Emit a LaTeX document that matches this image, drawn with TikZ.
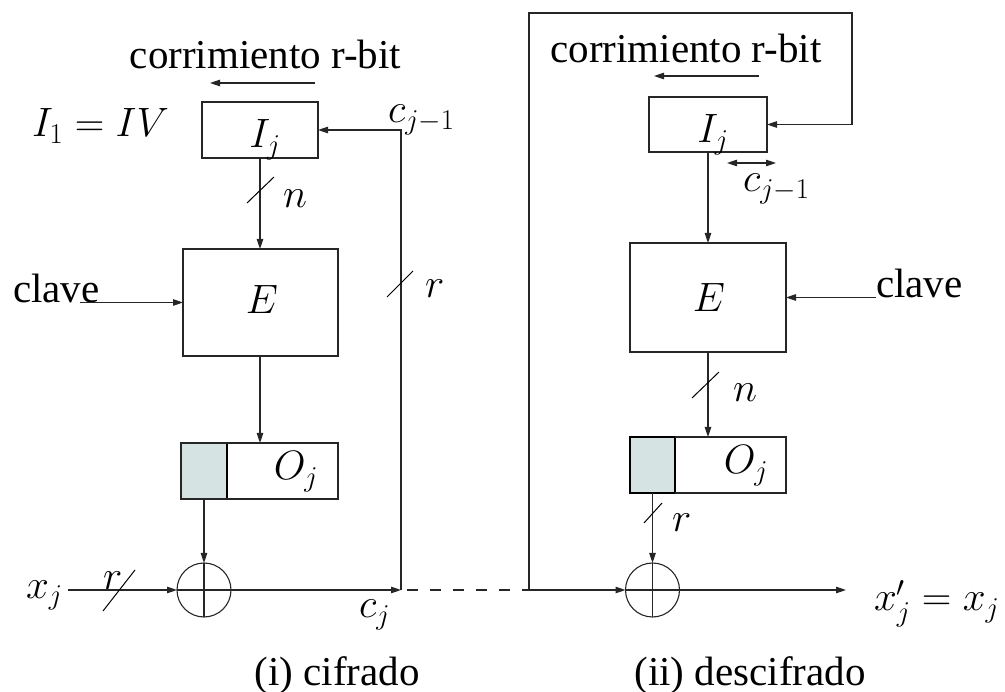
\documentclass[tikz,border=0pt]{standalone}
\usepackage{fix-cm}
\usepackage[no-math]{fontspec}
\setmainfont{Liberation Serif}
\usetikzlibrary{arrows.meta}
\definecolor{regfill}{HTML}{D6E3E3}
\tikzset{
  line/.style={line width=1.1pt, draw=black!85},
  arr/.style={line, -{Triangle[length=10pt,width=6.5pt]}},
  dblarr/.style={line, {Triangle[length=10pt,width=6.5pt]}-{Triangle[length=10pt,width=6.5pt]}},
  box/.style={line, rectangle, inner sep=0pt, outer sep=0pt},
  shade/.style={rectangle, inner sep=0pt, outer sep=0pt, fill=regfill, draw=black, line width=1.8pt},
  xor/.style={line, circle, inner sep=0pt, outer sep=0pt, minimum size=54pt},
  lbl/.style={inner sep=0pt, outer sep=0pt},
  slash/.style={line width=1pt, draw=black},
}
\begin{document}
\begin{tikzpicture}[x=1pt, y=-1pt, font=\fontsize{41}{49}\selectfont]
\useasboundingbox (0,0) rectangle (1005,692);

% ---------- (i) cifrado ----------
\node[box, minimum width=116pt, minimum height=56pt] (Ij1) at (260,130) {};
\node[box, minimum width=155pt, minimum height=107pt] (E1) at (260.5,302.5) {};
\node[box, minimum width=157pt, minimum height=56pt] (O1) at (259.5,471) {};
\node[shade, minimum width=46pt, minimum height=56pt] (S1) at (204,471) {};
\draw[line] (S1.north west) rectangle (O1.south east);
\node[xor] (X1) at (204,590) {};
\draw[line] (X1.north) -- (X1.south);
\draw[line] (X1.west) -- (X1.east);

\node[lbl, anchor=base] (tIj1) at (265,148) {$I_j$};
\node[lbl, anchor=base] (tE1) at (262,314) {$E$};
\node[lbl, anchor=base] (tO1) at (296,480) {$O_j$};
\node[lbl, anchor=base west] (iv) at (32,137) {$I_1 = IV$};
\node[lbl, anchor=base] (sh1) at (265.5,69) {corrimiento r-bit};
\node[lbl, anchor=base west] (cj1a) at (388,123) {$c_{j-1}$};
\node[lbl, anchor=base west] (n1) at (283,208) {$n$};
\node[lbl, anchor=base west] (r1) at (425,298) {$r$};
\node[lbl, anchor=base west] (r1b) at (103,590) {$r$};
\node[lbl, anchor=base west] (cj1) at (359,618) {$c_j$};
\node[lbl, anchor=base west] (xj1) at (26,598) {$x_j$};
\node[lbl, anchor=base west] (k1) at (13,303) {clave};
\node[lbl, anchor=base] (cap1) at (337,685) {(i) cifrado};

\coordinate (SHa1) at (315,83);
\coordinate (SHb1) at (210,83);
\coordinate (K1) at (80,302.5);
\coordinate (IN1) at (68,590);
\coordinate (F1) at (401,590);

\draw[arr] (SHa1) -- (SHb1);
\draw[arr] (Ij1.south) -- (Ij1.south |- E1.north);
\draw[arr] (E1.south -| Ij1.south) -- (Ij1.south |- O1.north);
\draw[arr] (S1.south) -- (X1.north);
\draw[arr] (K1) -- (E1.west);
\draw[arr] (IN1) -- (X1.west);
\draw[arr] (X1.east) -- (F1);
\draw[arr] (F1) |- (Ij1.east);

% bus-width marks
\draw[slash] (247,203) -- (274,177);
\draw[slash] (387,297) -- (413,271);
\draw[slash] (103,611) -- (135,570);

% ---------- link between the two halves ----------
\coordinate (L2) at (529,590);
\draw[line, dash pattern=on 11pt off 12pt, dash phase=-6pt] (F1) -- (L2);

% ---------- (ii) descifrado ----------
\node[box, minimum width=118pt, minimum height=55pt] (Ij2) at (708,124.5) {};
\node[box, minimum width=156pt, minimum height=109pt] (E2) at (708,297.5) {};
\node[box, minimum width=156pt, minimum height=56pt] (O2) at (708,465) {};
\node[shade, minimum width=45pt, minimum height=56pt] (S2) at (652.5,465) {};
\draw[line] (S2.north east) -- (O2.north east) -- (O2.south east) -- (S2.south east);
\node[xor] (X2) at (652.5,590) {};
\draw[line] (X2.north) -- (X2.south);
\draw[line] (X2.west) -- (X2.east);

\node[lbl, anchor=base] (tIj2) at (713,143) {$I_j$};
\node[lbl, anchor=base] (tE2) at (709,312) {$E$};
\node[lbl, anchor=base] (tO2) at (746,474) {$O_j$};
\node[lbl, anchor=base] (sh2) at (686,63) {corrimiento r-bit};
\node[lbl, anchor=base west] (cj2a) at (743,192) {$c_{j-1}$};
\node[lbl, anchor=base west] (n2) at (733,402) {$n$};
\node[lbl, anchor=base west] (r2) at (672,532) {$r$};
\node[lbl, anchor=base west] (k2) at (876,298) {clave};
\node[lbl, anchor=base west] (xo) at (874,611) {$x_j' = x_j$};
\node[lbl, anchor=base] (cap2) at (750,685) {(ii) descifrado};

\coordinate (SHa2) at (759,76);
\coordinate (SHb2) at (654,76);
\coordinate (DA) at (727,163);
\coordinate (DB) at (776,163);
\coordinate (K2) at (876,297.5);
\coordinate (T1) at (529,13);
\coordinate (T2) at (852,13);
\coordinate (OUT) at (846,590);

\draw[arr] (SHa2) -- (SHb2);
\draw[dblarr] (DA) -- (DB);
\draw[arr] (Ij2.south) -- (Ij2.south |- E2.north);
\draw[arr] (E2.south) -- (O2.north);
\draw[arr] (S2.south) -- (X2.north);
\draw[arr] (K2) -- (E2.east);
\draw[arr] (L2) -- (T1) -- (T2) |- (Ij2.east);
\draw[arr] (L2) -- (X2.west);
\draw[arr] (X2.east) -- (OUT);

% bus-width marks
\draw[slash] (692,398) -- (719,372);
\draw[slash] (644,523) -- (662,503);
\end{tikzpicture}
\end{document}
